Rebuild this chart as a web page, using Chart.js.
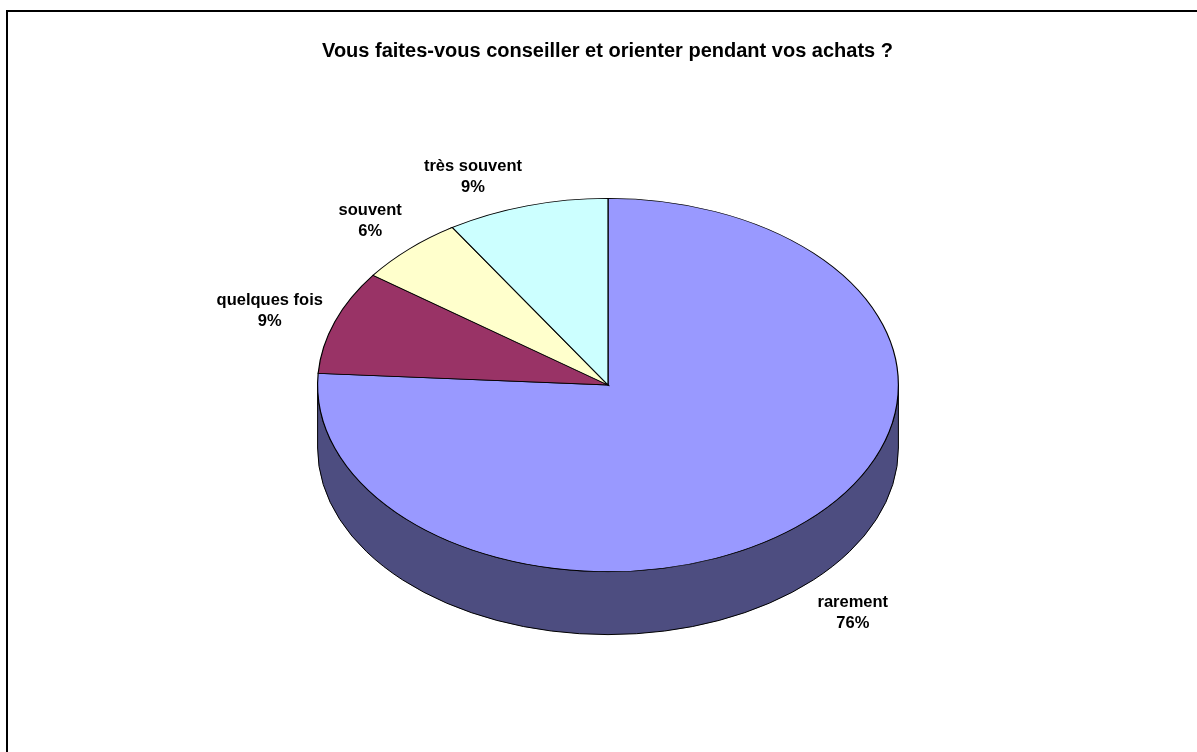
<!DOCTYPE html>
<html lang="fr">
<head>
<meta charset="utf-8">
<title>Conseil pendant les achats</title>
<style>
	html, body { margin: 0; padding: 0; background: #fff; overflow: hidden; }
	#cadre { position: absolute; left: 6px; top: 10px; right: 0; bottom: 0; border-top: 2px solid #000; border-left: 2px solid #000; }
	#conseil { position: absolute; left: 0; top: 0; }
</style>
</head>
<body>
<div id="cadre"></div>
<canvas id="conseil" width="1197" height="752"></canvas>
<script src="https://cdn.jsdelivr.net/npm/chart.js@4/dist/chart.umd.min.js"></script>
<script>
const titre = "Vous faites-vous conseiller et orienter pendant vos achats ?";
const categories = ["rarement", "quelques fois", "souvent", "très souvent"];
const valeurs = [76, 9, 6, 9];
const couleurs = ["#9999FF", "#993366", "#FFFFCC", "#CCFFFF"];
const couleursCote = ["#4D4D80", "#4D1A33", "#808066", "#668080"];

// decalage de chaque etiquette par rapport au bord de sa part
const decalages = [[46, 92], [-65, -10.5], [-39, -28.5], [-54, -28.5]];

const aplat = 187 / 291;   // perspective du disque
const epaisseur = 63;      // hauteur du cote

const pie3d = {
	id: "pie3d",
	beforeDatasetsDraw(chart) {
		const ctx = chart.ctx;
		const arcs = chart.getDatasetMeta(0).data;
		// cote visible : seulement la moitie basse du disque
		arcs.forEach((arc, i) => {
			const p = arc.getProps(["x", "y", "startAngle", "endAngle", "outerRadius"], true);
			const debut = Math.max(p.startAngle, 0);
			const fin = Math.min(p.endAngle, Math.PI);
			if (fin <= debut) return;
			const ry = p.outerRadius * aplat;
			ctx.beginPath();
			ctx.ellipse(p.x, p.y + epaisseur, p.outerRadius, ry, 0, debut, fin);
			ctx.ellipse(p.x, p.y, p.outerRadius, ry, 0, fin, debut, true);
			ctx.closePath();
			ctx.fillStyle = couleursCote[i];
			ctx.fill();
			ctx.strokeStyle = "#000";
			ctx.lineWidth = 1;
			ctx.stroke();
		});
		// dessus du disque : les parts du graphique, aplaties
		const y0 = arcs[0].y;
		ctx.save();
		ctx.translate(0, y0);
		ctx.scale(1, aplat);
		ctx.translate(0, -y0);
	},
	afterDatasetsDraw(chart) {
		chart.ctx.restore();
	},
	afterDraw(chart) {
		const ctx = chart.ctx;
		ctx.save();
		ctx.fillStyle = "#000";
		ctx.textAlign = "center";
		ctx.textBaseline = "middle";
		ctx.font = "bold 20px 'Liberation Sans', Arial, sans-serif";
		ctx.fillText(titre, 607.5, 51);
		ctx.font = "bold 16.5px 'Liberation Sans', Arial, sans-serif";
		chart.getDatasetMeta(0).data.forEach((arc, i) => {
			const p = arc.getProps(["x", "y", "startAngle", "endAngle", "outerRadius"], true);
			const milieu = (p.startAngle + p.endAngle) / 2;
			const x = p.x + Math.cos(milieu) * p.outerRadius + decalages[i][0];
			const y = p.y + Math.sin(milieu) * p.outerRadius * aplat + decalages[i][1];
			ctx.fillText(categories[i], x, y - 10.5);
			ctx.fillText(valeurs[i] + "%", x, y + 10.5);
		});
		ctx.restore();
	}
};

new Chart(document.getElementById("conseil"), {
	type: "pie",
	data: {
		labels: categories,
		datasets: [{
			data: valeurs,
			backgroundColor: couleurs,
			borderColor: "#000",
			borderWidth: 1.2,
			borderJoinStyle: "miter"
		}]
	},
	options: {
		responsive: false,
		animation: false,
		layout: { padding: { left: 317, right: 298, top: 94, bottom: 76 } },
		plugins: {
			legend: { display: false },
			title: { display: false },
			tooltip: { enabled: false }
		}
	},
	plugins: [pie3d]
});
</script>
</body>
</html>
